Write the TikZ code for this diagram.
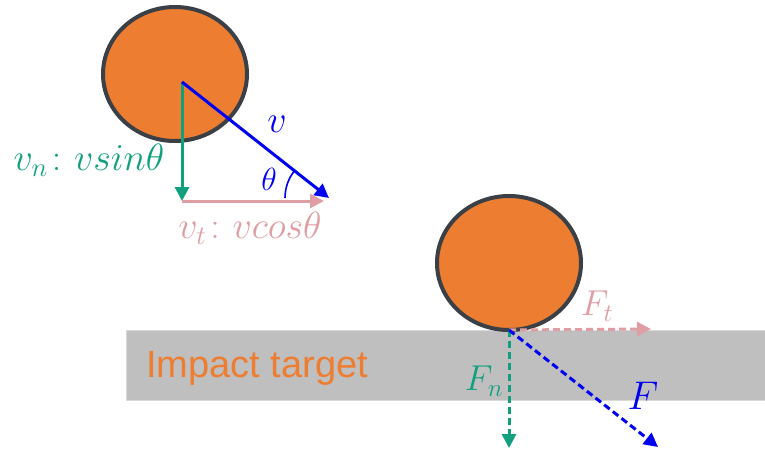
\RequirePackage{fix-cm}
\documentclass[tikz,border=0pt]{standalone}
\usepackage{amsmath}
\usepackage{fontspec}
\setsansfont{Liberation Sans}
\usepackage{tikz}
\usetikzlibrary{shapes.geometric, arrows.meta, positioning, calc}

\definecolor{ballOrange}{HTML}{ED7D31}
\definecolor{ballEdge}{HTML}{3B3F46}
\definecolor{normalGreen}{HTML}{11A07E}
\definecolor{tangPink}{HTML}{DE9EA3}
\definecolor{velBlue}{HTML}{0000F0}
\definecolor{targetGray}{HTML}{BFBFBF}

\begin{document}
\begin{tikzpicture}[
        x=1pt, y=-1pt,
        ball/.style={
            ellipse, draw=ballEdge, line width=4pt, fill=ballOrange,
            minimum width=144pt, minimum height=134pt, inner sep=0pt
        },
        targetBlock/.style={
            rectangle, fill=targetGray, draw=gray!30, line width=0.6pt,
            minimum width=640pt, minimum height=70pt, inner sep=0pt
        },
        vecArrow/.style={
            line width=3pt, -{Triangle[length=14pt,width=14pt]}
        },
        forceArrow/.style={
            vecArrow, dash pattern=on 7pt off 4pt
        },
        vecLabel/.style={
            font=\fontsize{38}{40}\selectfont, inner sep=0pt
        },
        forceLabel/.style={
            font=\fontsize{36}{38}\selectfont, inner sep=0pt
        }
    ]
        \useasboundingbox (0,0) rectangle (765,455);

        % Nodes
        \node (target) [targetBlock, anchor=north west] at (126,330) {};
        \node (targetText) [anchor=west, text=ballOrange, font=\sffamily\fontsize{38}{40}\selectfont, inner sep=0pt] at (146,368) {Impact target};

        \node (ball1) [ball] at (175,74) {};
        \node (ball2) [ball] at (509,263) {};

        \coordinate (o1) at (182,82);
        \coordinate (n1) at (182,201);
        \coordinate (t1) at (324,201);
        \coordinate (v1) at (329,198);

        \coordinate (o2) at (509,330);
        \coordinate (n2) at (509,448);
        \coordinate (t2) at (651,329);
        \coordinate (f2) at (658,447);

        % Arrows
        \draw [vecArrow, normalGreen] (o1) -- (n1);
        \draw [vecArrow, tangPink] (n1) -- (t1);
        \draw [vecArrow, velBlue] (o1) -- (v1);
        \draw [velBlue, line width=1.6pt] ($(v1)+(180:44)$) arc (180:218:44);

        \draw [forceArrow, tangPink] (o2) -- (t2);
        \draw [forceArrow, normalGreen] (o2) -- (n2);
        \draw [forceArrow, velBlue] (o2) -- (f2);

        % Labels
        \node (vLbl) [vecLabel, text=velBlue] at (277,124) {$v$};
        \node (thLbl) [vecLabel, text=velBlue, font=\fontsize{32}{34}\selectfont] at (269,179) {$\theta$};
        \node (vnLbl) [vecLabel, text=normalGreen] at (89,160) {$v_n\colon vsin\theta$};
        \node (vtLbl) [vecLabel, text=tangPink] at (250,228) {$v_t\colon vcos\theta$};

        \node (ftLbl) [forceLabel, text=tangPink] at (597,306) {$F_t$};
        \node (fnLbl) [forceLabel, text=normalGreen] at (484,381) {$F_n$};
        \node (fLbl) [forceLabel, text=velBlue, font=\fontsize{40}{42}\selectfont] at (643,396) {$F$};
\end{tikzpicture}
\end{document}
